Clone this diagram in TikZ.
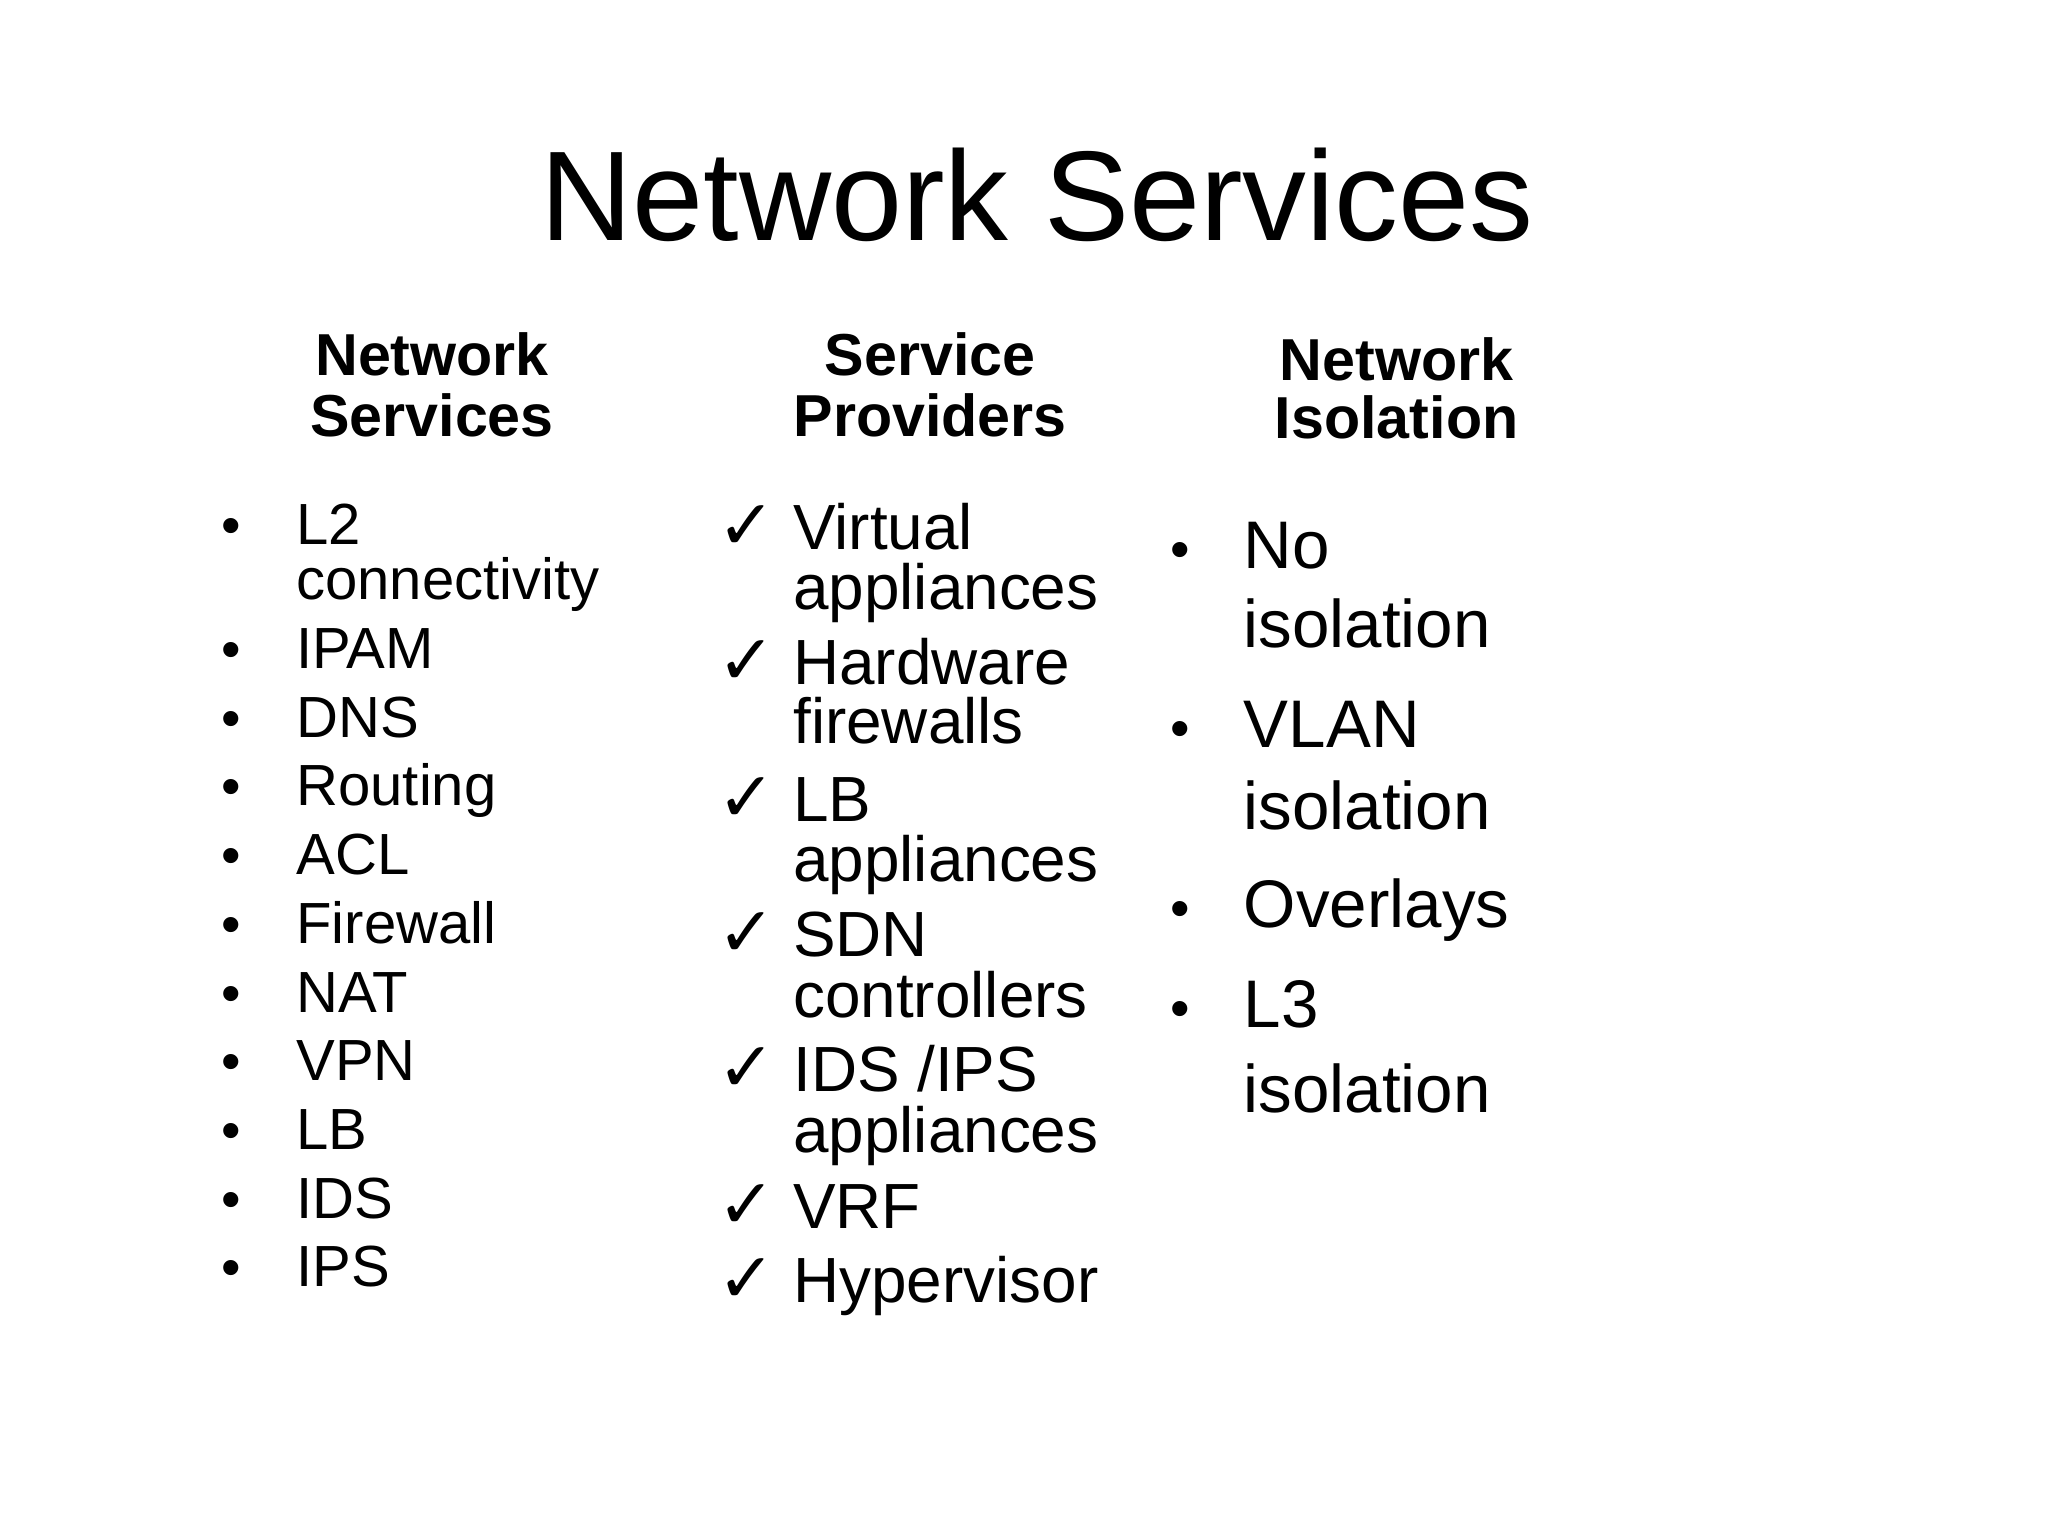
\documentclass[tikz,border=0pt]{standalone}
\usepackage{fontspec}
\setmainfont{Liberation Sans}
\newfontfamily\symf{DejaVu Sans}
\begin{document}
\begin{tikzpicture}[x=0.02cm,y=-0.02cm,
 l/.style={anchor=base west,inner sep=0pt,font=\fontsize{25}{29}\selectfont},
 m/.style={anchor=base west,inner sep=0pt,font=\fontsize{27.5}{31}\selectfont},
 r/.style={anchor=base west,inner sep=0pt,font=\fontsize{29}{33}\selectfont},
 h/.style={anchor=base,inner sep=0pt,font=\bfseries\fontsize{25.5}{29}\selectfont},
 dot/.style={anchor=base,inner sep=0pt,font=\fontsize{24}{28}\selectfont},
 chk/.style={anchor=base,inner sep=0pt,font=\symf\fontsize{30}{34}\selectfont}]
\fill[white] (0,0) rectangle (1550,1162);
\node[anchor=base,inner sep=0pt,font=\fontsize{55}{60}\selectfont] (title) at (785,182) {Network Services};
\node[h] (h1a) at (327,284) {Network}; \node[h] (h1b) at (327,330) {Services};
\node[h] (h2a) at (704,284) {Service}; \node[h] (h2b) at (704,330) {Providers};
\node[h] (h3a) at (1057,288) {Network}; \node[h] (h3b) at (1057,332) {Isolation};
% left column
\foreach \y/\t [count=\i] in {412/L2,506/IPAM,558/DNS,610/Routing,662/ACL,714/Firewall,766/NAT,818/VPN,870/LB,922/IDS,974/IPS}{
  \node[dot] (lb\i) at (175,\y) {•};
  \node[l] (lt\i) at (224,\y) {\t};}
\node[l] (lt0) at (224,454) {connectivity};
% middle column
\foreach \y in {416,518,622,724,826,930,986}{\node[chk] at (565,\y) {✓};}
\foreach \y/\t [count=\i] in {416/Virtual,461/appliances,518/Hardware,563/firewalls,622/LB,667/appliances,724/SDN,770/controllers,826/{IDS /IPS},872/appliances,930/VRF,986/Hypervisor}{
  \node[m] (mt\i) at (600,\y) {\t};}
% right column
\foreach \y in {430,566,702,778}{\node[dot] at (893,\y) {•};}
\foreach \y/\t [count=\i] in {430/No,490/isolation,566/VLAN,628/isolation,702/Overlays,778/L3,842/isolation}{
  \node[r] (rt\i) at (941,\y) {\t};}
\end{tikzpicture}
\end{document}
